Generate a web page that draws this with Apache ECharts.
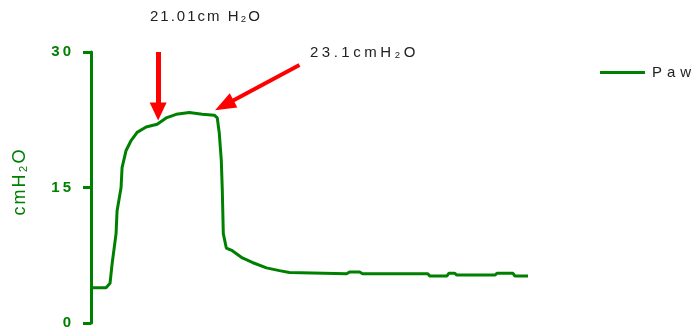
<!DOCTYPE html>
<html>
<head>
<meta charset="utf-8">
<script src="https://cdn.jsdelivr.net/npm/echarts@6/dist/echarts.min.js"></script>
<style>
html,body{margin:0;padding:0;background:#fff;}
#chart{width:696px;height:336px;}
</style>
</head>
<body>
<div id="chart"></div>
<script>
// ---- data (time in seconds, pressure in cmH2O) ----
const times = [0, 0.15, 0.19, 0.21, 0.25, 0.26, 0.30, 0.31, 0.35, 0.40, 0.46, 0.55, 0.66, 0.75, 0.85, 0.98, 1.11, 1.23, 1.26, 1.28, 1.30, 1.31, 1.32, 1.35, 1.41, 1.51, 1.61, 1.75, 1.88, 1.98, 2.55, 2.58, 2.68, 2.71, 3.36, 3.38, 3.55, 3.57, 3.63, 3.65, 4.03, 4.05, 4.21, 4.23, 4.36];
const paw   = [3.9, 3.9, 4.4, 6.5, 9.9, 12.4, 15.0, 17.2, 19.1, 20.2, 21.1, 21.7, 22.0, 22.7, 23.1, 23.3, 23.1, 23.0, 22.7, 21.0, 18.0, 14.7, 9.9, 8.3, 8.0, 7.2, 6.7, 6.1, 5.8, 5.6, 5.45, 5.65, 5.65, 5.45, 5.45, 5.2, 5.2, 5.5, 5.5, 5.3, 5.3, 5.5, 5.5, 5.2, 5.2];
const yTicks = [0, 15, 30];
const seriesName = 'Paw';
const axisName = 'cmH₂O';
const noteTexts = ['21.01cm H₂O', '23.1cmH₂O'];
// annotation arrows: [time, value] from -> to
const arrowFrom = [[0.67, 30], [2.08, 28.56]];
const arrowTo   = [[0.67, 23.4], [1.33, 24.1]];

// letter spacing for the spaced-out lettering of the original
const SPACING = {'Paw': 5, '23.1cmH₂O': 3.5, '21.01cm H₂O': 2, '30': 3, '15': 3, '0': 3, 'cmH₂O': 2};
const _ft = CanvasRenderingContext2D.prototype.fillText;
CanvasRenderingContext2D.prototype.fillText = function (t, x, y, m) {
  try { this.letterSpacing = (SPACING[t] || 0) + 'px'; } catch (e) {}
  return m === undefined ? _ft.call(this, t, x, y) : _ft.call(this, t, x, y, m);
};

const GREEN = '#008000';
const FONT = 'Liberation Sans, Arial, sans-serif';
const chart = echarts.init(document.getElementById('chart'), null, {renderer: 'canvas'});
chart.setOption({
  animation: false,
  backgroundColor: '#fff',
  grid: {left: 91, right: 168, top: 52, bottom: 13},
  legend: {
    left: 595, top: 60, itemWidth: 45, itemHeight: 3, icon: 'rect', itemGap: 10,
    textStyle: {fontSize: 15, color: '#222', fontFamily: FONT, padding: [0, 0, 0, 2]},
    data: [seriesName]
  },
  xAxis: {type: 'value', min: 0, max: times[times.length - 1], show: false},
  yAxis: {
    type: 'value', min: yTicks[0], max: yTicks[yTicks.length - 1], interval: yTicks[1] - yTicks[0],
    name: axisName, nameLocation: 'middle', nameGap: 62, nameRotate: 90,
    nameTextStyle: {color: GREEN, fontSize: 18, fontFamily: FONT, padding: [0, 0, 0, 12]},
    axisLine: {show: true, lineStyle: {color: GREEN, width: 3}},
    axisTick: {show: true, length: 8, lineStyle: {color: GREEN, width: 3}},
    axisLabel: {color: GREEN, fontSize: 15, fontWeight: 'bold', fontFamily: FONT, margin: 17},
    splitLine: {show: false}
  },
  series: [{
    name: seriesName, type: 'line', clip: false, showSymbol: false, symbol: 'none',
    data: times.map((t, i) => [t, paw[i]]),
    lineStyle: {color: GREEN, width: 3}, itemStyle: {color: GREEN},
    markLine: {
      silent: true, symbol: ['none', 'triangle'], animation: false,
      label: {show: false},
      data: [
        [{coord: arrowFrom[0], lineStyle: {width: 5}}, {coord: arrowTo[0], symbolSize: [17, 18]}],
        [{coord: arrowFrom[1], lineStyle: {width: 4}}, {coord: arrowTo[1], symbolSize: [16, 21]}]
      ],
      lineStyle: {color: '#ff0000', type: 'solid', width: 4},
      itemStyle: {color: '#ff0000'}
    }
  }],
  graphic: [
    {type: 'text', left: 150, top: 9, style: {text: noteTexts[0], fill: '#222', font: '15px ' + FONT}},
    {type: 'text', left: 310, top: 45, style: {text: noteTexts[1], fill: '#222', font: '15px ' + FONT}}
  ]
});
</script>
</body>
</html>
